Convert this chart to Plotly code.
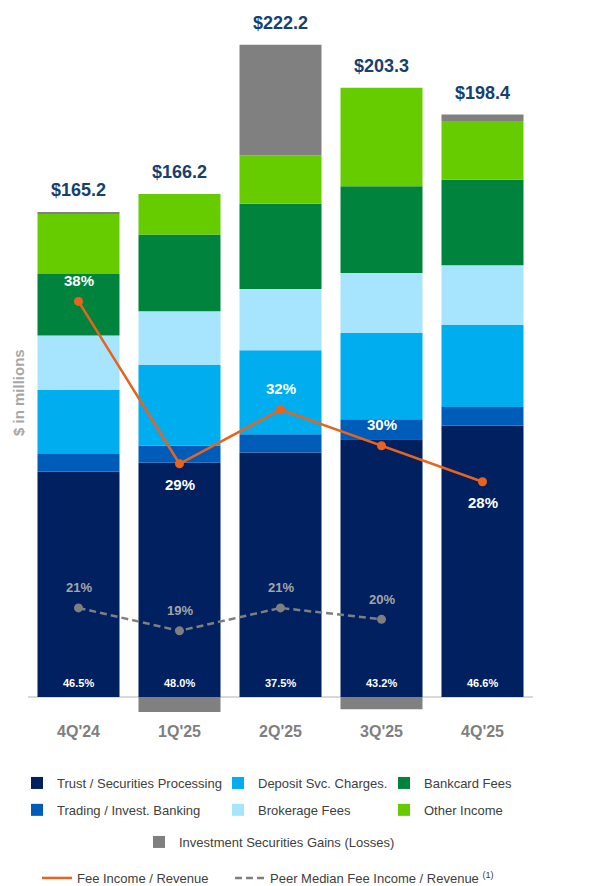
import plotly.graph_objects as go

# ---------------- data ----------------
quarters = ["4Q'24", "1Q'25", "2Q'25", "3Q'25", "4Q'25"]
trust = [76.8, 79.8, 83.3, 87.8, 92.5]
trading = [6.0, 5.9, 6.2, 6.8, 6.3]
deposit = [21.8, 27.4, 28.6, 29.4, 27.9]
brokerage = [18.5, 18.3, 20.9, 20.4, 20.4]
bankcard = [21.0, 26.1, 29.0, 29.6, 29.1]
other_income = [20.5, 13.8, 16.4, 33.5, 20.0]
sec_gains = [0.6, -5.1, 37.8, -4.2, 2.2]
totals = [165.2, 166.2, 222.2, 203.3, 198.4]
trust_share = ["46.5%", "48.0%", "37.5%", "43.2%", "46.6%"]
fee_ratio = [38, 29, 32, 30, 28]
peer_ratio = [21, 19, 21, 20, None]

# ---------------- style ----------------
FONT = "Liberation Sans, Arial, sans-serif"
ORANGE = "#E8641E"
GREY_LINE = "#7F7F7F"
series = [
    ("Trust / Securities Processing", trust, "#002060", "legend"),
    ("Trading / Invest. Banking", trading, "#005CB9", "legend"),
    ("Deposit Svc. Charges.", deposit, "#00AEEF", "legend2"),
    ("Brokerage Fees", brokerage, "#A6E5FD", "legend2"),
    ("Bankcard Fees", bankcard, "#00843D", "legend3"),
    ("Other Income", other_income, "#66CC00", "legend3"),
    ("Investment Securities Gains (Losses)", sec_gains, "#808080", "legend4"),
]
fee_side = [1, -1, 1, 1, -1]  # label above (1) / below (-1)

fig = go.Figure()
for name, vals, color, lg in series:
    fig.add_trace(go.Bar(
        x=quarters, y=vals, name=name, marker=dict(color=color, line=dict(width=0)),
        legend=lg, legendgroup=name, hoverinfo="skip",
    ))

fig.add_trace(go.Scatter(
    x=quarters, y=fee_ratio, name="Fee Income / Revenue", yaxis="y2",
    mode="lines+markers", line=dict(color=ORANGE, width=2.5),
    marker=dict(size=9, color=ORANGE), showlegend=False, hoverinfo="skip",
))
fig.add_trace(go.Scatter(
    x=quarters, y=peer_ratio, name="Peer Median Fee Income / Revenue", yaxis="y3",
    mode="lines+markers", line=dict(color=GREY_LINE, width=2.5, dash="7px,4px"),
    marker=dict(size=9, color=GREY_LINE), showlegend=False, hoverinfo="skip",
))
# legend-only line entries (line swatch without marker)
fig.add_trace(go.Scatter(
    x=[None], y=[None], name="Fee Income / Revenue", yaxis="y2", mode="lines",
    line=dict(color=ORANGE, width=2.5), legend="legend5", legendwidth=148,
))
fig.add_trace(go.Scatter(
    x=[None], y=[None], name="Peer Median Fee Income / Revenue <sup>(1)</sup>", yaxis="y3",
    mode="lines", line=dict(color=GREY_LINE, width=2.5, dash="7px,4px"), legend="legend5",
))

ann = []
pos_sums = []
for i in range(len(quarters)):
    pos_sums.append(sum(v[i] for _, v, _, _ in series if v[i] > 0))
for q, s, t in zip(quarters, pos_sums, totals):
    ann.append(dict(x=q, y=s, xref="x", yref="y", text=f"${t:.1f}", showarrow=False,
                    yshift=22, yanchor="middle",
                    font=dict(family=FONT, size=18, color="#17406D", weight="bold")))
for q, t in zip(quarters, trust_share):
    ann.append(dict(x=q, y=0, xref="x", yref="y", text=t, showarrow=False,
                    yshift=14, yanchor="middle",
                    font=dict(family=FONT, size=11, color="white", weight="bold")))
for q, v, sd in zip(quarters, fee_ratio, fee_side):
    ann.append(dict(x=q, y=v, xref="x", yref="y2", text=f"{v}%", showarrow=False,
                    yshift=21 * sd, yanchor="middle",
                    font=dict(family=FONT, size=15, color="white", weight="bold")))
for q, v in zip(quarters, peer_ratio):
    if v is None:
        continue
    ann.append(dict(x=q, y=v, xref="x", yref="y3", text=f"{v}%", showarrow=False,
                    yshift=20, yanchor="middle",
                    font=dict(family=FONT, size=13, color="#A6A6A6", weight="bold")))
ann.append(dict(x=(19 - 28) / 505, y=(720 - 393) / 710, xref="paper", yref="paper",
                text="$ in millions", showarrow=False, textangle=-90,
                xanchor="center", yanchor="middle",
                font=dict(family=FONT, size=15, color="#A6A6A6", weight="bold")))

leg_common = dict(xref="container", yref="container", xanchor="left", yanchor="top",
                  bgcolor="rgba(0,0,0,0)", font=dict(family=FONT, size=13, color="#404040"),
                  traceorder="grouped", tracegroupgap=7, orientation="v")

fig.update_layout(
    width=600, height=886,
    margin=dict(l=28, r=67, t=10, b=166, autoexpand=False),
    paper_bgcolor="white", plot_bgcolor="white",
    barmode="relative", bargap=0.188,
    font=dict(family=FONT),
    xaxis=dict(range=[-0.5, 4.5], showgrid=False, showline=False, ticks="",
               tickfont=dict(family=FONT, size=16, color="#7F7F7F", weight="bold")),
    yaxis=dict(range=[-7.83, 234.0], showgrid=False, showticklabels=False, showline=False,
               zeroline=True, zerolinecolor="#D9D9D9", zerolinewidth=2),
    yaxis2=dict(range=[14.79, 54.16], overlaying="y", anchor="x", visible=False),
    yaxis3=dict(range=[11.21, 73.22], overlaying="y", anchor="x", visible=False),
    annotations=ann,
    legend=dict(x=17 / 600, y=1 - 768 / 886, **leg_common),
    legend2=dict(x=218 / 600, y=1 - 768 / 886, **leg_common),
    legend3=dict(x=384 / 600, y=1 - 768 / 886, **leg_common),
    legend4=dict(x=139 / 600, y=1 - 827 / 886, **leg_common),
    legend5=dict(x=37 / 600, y=1 - 863 / 886, xref="container", yref="container",
                 xanchor="left", yanchor="top", orientation="h",
                 bgcolor="rgba(0,0,0,0)", font=dict(family=FONT, size=13, color="#404040")),
    showlegend=True,
)

fig.write_html(
    "out.html",
    config={"displayModeBar": False},
    post_script="document.body.style.margin='0';document.body.style.overflow='hidden';",
)
